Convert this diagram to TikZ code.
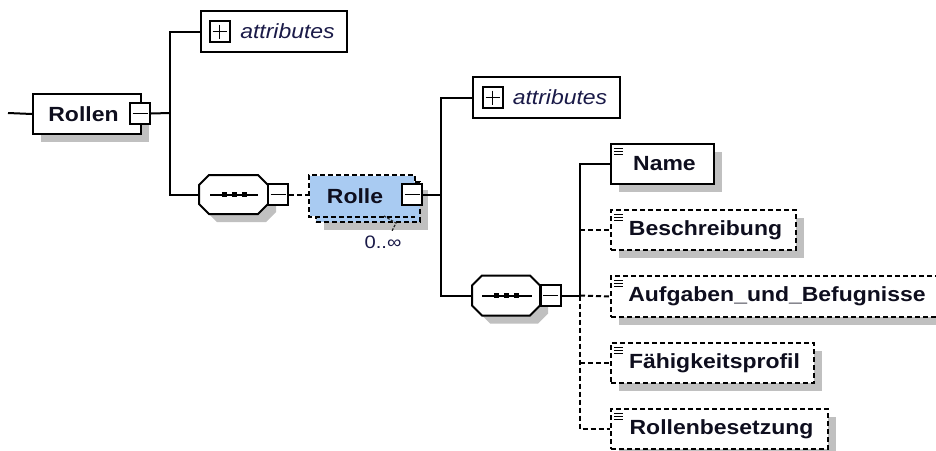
\documentclass[tikz,border=0pt]{standalone}
\usepackage{fontspec}
\newfontfamily\xf[FakeStretch=1.12]{Liberation Sans}
\usetikzlibrary{shadows,calc}
\definecolor{shd}{HTML}{C0C0C0}
\definecolor{selblue}{HTML}{A9CBF2}
\definecolor{ink}{HTML}{0E0E1E}
\definecolor{attrink}{HTML}{1A1A48}
\tikzset{
  ln/.style={line width=2pt},
  dsh/.style={dash pattern=on 5pt off 3pt},
  sh/.style={general shadow={fill=shd, shadow xshift=8pt, shadow yshift=-8pt}},
  boxbase/.style={draw=black, ln, inner sep=0pt, anchor=north west, text=ink,
    font=\xf\bfseries\fontsize{20.5}{24}\selectfont},
  icon/.style={path picture={\draw[solid, line width=1.4pt, black]
      ($(path picture bounding box.north west)+(3,4.5)$) -- ++(9,0)
      ($(path picture bounding box.north west)+(3,7.5)$) -- ++(9,0)
      ($(path picture bounding box.north west)+(3,10.5)$) -- ++(9,0);}},
  elem/.style={boxbase, fill=white, sh, minimum height=40pt, icon},
  optelem/.style={elem, dsh},
  attrbox/.style={draw=black, ln, fill=white, inner sep=0pt, anchor=north west,
    minimum height=41pt, text=attrink, font=\xf\itshape\fontsize{20.5}{24}\selectfont},
  pmbox/.style={draw=black, ln, solid, fill=white, minimum width=20pt, minimum height=21pt, inner sep=0pt},
  minusbox/.style={pmbox, path picture={\draw[solid, line width=1.8pt]
      ($(path picture bounding box.center)+(-7.5,0)$) -- ++(15,0);}},
  plusbox/.style={pmbox, path picture={\draw[solid, line width=1.8pt]
      ($(path picture bounding box.center)+(-7,0)$) -- ++(14,0)
      ($(path picture bounding box.center)+(0,-7)$) -- ++(0,14);}},
}
\begin{document}
\begin{tikzpicture}[x=1pt,y=-1pt]
\useasboundingbox (0,0) rectangle (936,450);
\fill[white] (0,0) rectangle (936,450);

% junction coordinates
\coordinate (in) at (8,113);
\coordinate (j1) at (170,113);
\coordinate (j2) at (441,194.5);
\coordinate (j3) at (580,295.5);
\coordinate (seq1w) at (199,194.5);
\coordinate (seq2w) at (472,295.5);

% Rollen
\node[boxbase, fill=white, sh, minimum width=108pt, minimum height=40pt] (rollen) at (32,93) {Rollen\hspace*{7pt}};
\node[minusbox] (rollenm) at (140,113.5) {};

% top attributes
\node[attrbox, minimum width=146pt] (attr1) at (200,10) {\hspace*{27pt}attributes};
\node[plusbox] (attr1p) at (219.5,31.5) {};

% sequence 1
\draw[ln, fill=white, sh] (199,185) -- (209,175) -- (258,175) -- (268,185) -- (268,204) -- (258,214) -- (209,214) -- (199,204) -- cycle;
\draw[ln] (210,194.5) -- (258,194.5);
\fill (222,192) rectangle ++(5,5);
\fill (232,192) rectangle ++(5,5);
\fill (242,192) rectangle ++(5,5);
\node[minusbox] (seq1m) at (278,194.5) {};

% Rolle (repeated element)
\node[boxbase, dsh, fill=selblue, sh, minimum width=104pt, minimum height=40pt] (rolleb) at (315,181) {};
\node[boxbase, draw=none, fill=selblue, minimum width=104pt, minimum height=40pt] (rollef) at (309,175) {Rolle\hspace*{14pt}};
\draw[ln, dsh] ($(rollef.north east)+(0,6)$) -- (rollef.north east) -- (rollef.north west) -- (rollef.south west) -- (rollef.south east);
\node[minusbox] (rollem) at (412,194.5) {};
\draw[line width=1.2pt, dash pattern=on 2.5pt off 1.5pt, black!85] (384,216) -- (396,223) -- (392,231);
\node[text=attrink, font=\xf\fontsize{18}{20}\selectfont] (card) at (383,242) {0..∞};

% second attributes
\node[attrbox, minimum width=147pt] (attr2) at (472,76) {\hspace*{27pt}attributes};
\node[plusbox] (attr2p) at (492.5,97.5) {};

% sequence 2
\draw[ln, fill=white, sh] (472,285.5) -- (482,275.5) -- (530,275.5) -- (540,285.5) -- (540,305.5) -- (530,315.5) -- (482,315.5) -- (472,305.5) -- cycle;
\draw[ln] (482,295.5) -- (532,295.5);
\fill (494,293) rectangle ++(5,5);
\fill (504,293) rectangle ++(5,5);
\fill (514,293) rectangle ++(5,5);
\node[minusbox] (seq2m) at (550.5,295.5) {};

% child elements
\node[elem, minimum width=103pt] (name) at (610,143) {\hspace*{4pt}Name};
\node[optelem, minimum width=185pt] (beschr) at (610,209) {\hspace*{4pt}Beschreibung};
\node[optelem, minimum width=332pt, minimum height=41pt] (aufg) at (610,275) {Aufgaben\_und\_Befugnisse};
\node[optelem, minimum width=203pt] (faehig) at (610,342) {\hspace*{4pt}Fähigkeitsprofil};
\node[optelem, minimum width=217pt] (rollenb) at (610,408) {\hspace*{4pt}Rollenbesetzung};

% connectors
\draw[ln] (in) -- (rollen.west);
\draw[ln] (rollenm.east) -- (j1);
\draw[ln] (attr1.west) -- (attr1.west -| j1) -- (seq1w -| j1) -- (seq1w);
\draw[ln, dsh] (seq1m.east) -- (seq1m.east -| rollef.west);
\draw[ln] (rollem.east) -- (j2);
\draw[ln] (attr2.west) -- (attr2.west -| j2) -- (seq2w -| j2) -- (seq2w);
\draw[ln] (seq2m.east) -- (j3);
\draw[ln] (name.west) -- (name.west -| j3) -- (j3);
\draw[ln, dsh] (j3) -- (rollenb.west -| j3) -- (rollenb.west);
\draw[ln, dsh] (beschr.west -| j3) -- (beschr.west);
\draw[ln, dsh] (j3) -- (aufg.west);
\draw[ln, dsh] (faehig.west -| j3) -- (faehig.west);
\end{tikzpicture}
\end{document}
